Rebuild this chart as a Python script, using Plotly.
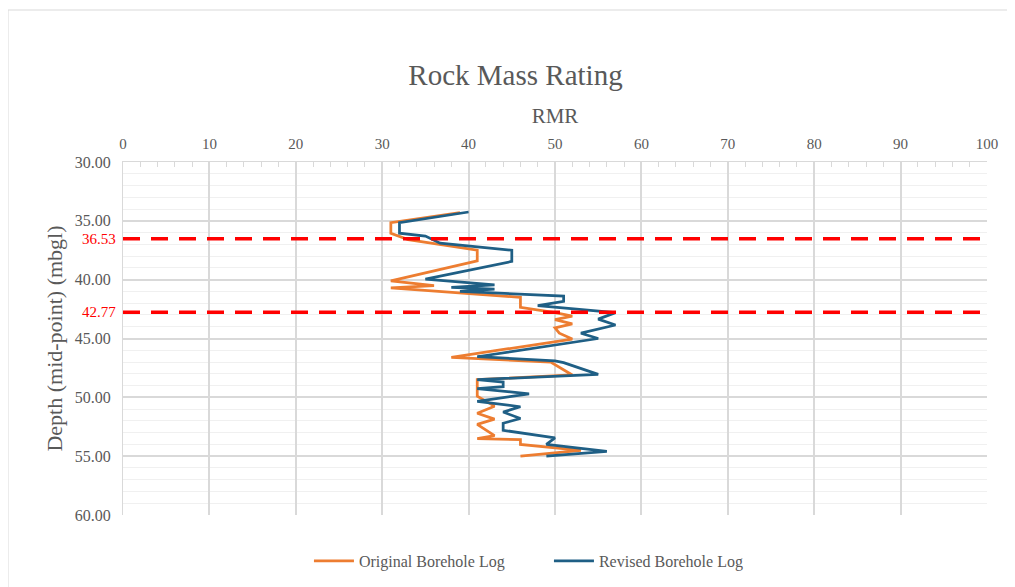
import plotly.graph_objects as go

# Original borehole log (orange)
orig_depth = [34.3, 35.15, 36.05, 36.6, 37.5, 38.4, 40.1, 40.5, 40.7, 41.1, 41.5, 42.35,
              42.8, 43.1, 43.4, 43.75, 44.1, 44.55, 45.05, 46.6, 47.0, 48.1, 48.5, 49.9,
              50.75, 51.35, 51.85, 52.3, 53.25, 53.5, 53.6, 54.0, 54.5, 55.0]
orig_rmr = [39, 31, 31, 33, 41, 41, 31, 36, 31, 39, 46, 46,
            50, 52, 50, 52, 50, 50.5, 52, 38, 49.5, 52, 41, 41,
            43, 41, 43, 41, 43, 41, 46, 46, 53, 46]

# Revised borehole log (blue)
rev_depth = [34.25, 35.15, 36.05, 36.3, 36.9, 37.5, 38.45, 39.95, 40.45, 40.65, 40.8, 41.0,
             41.4, 41.85, 42.2, 42.8, 43.35, 43.85, 44.55, 45.0, 46.55, 46.9, 47.05, 48.05,
             48.5, 48.7, 49.1, 49.25, 49.7, 50.35, 50.8, 51.25, 51.8, 52.2, 52.8, 53.3,
             53.45, 54.0, 54.6, 55.0]
rev_rmr = [40, 32, 32, 35, 36.7, 45, 45, 35, 43, 38, 43, 39,
           51, 51, 48, 57, 55, 57, 53, 55, 41, 50, 51, 55,
           41, 44, 44, 41, 47, 41, 46, 44, 46, 44, 44, 49,
           50, 49, 56, 49]

marker_depths = [36.53, 42.77]
marker_labels = ["36.53", "42.77"]

y_ticks = [30, 35, 40, 45, 50, 55, 60]
y_tick_labels = [f"{v:.2f}" for v in y_ticks]

GRAY = "#595959"
FONT = "Liberation Serif, Times New Roman, serif"

fig = go.Figure()
fig.add_trace(go.Scatter(x=orig_rmr, y=orig_depth, mode="lines", name="Original Borehole Log",
                         line=dict(color="#ED7D31", width=2.75)))
fig.add_trace(go.Scatter(x=rev_rmr, y=rev_depth, mode="lines", name="Revised Borehole Log",
                         line=dict(color="#1F5F85", width=2.75)))

for d, lab in zip(marker_depths, marker_labels):
    fig.add_shape(type="line", xref="paper", yref="y", x0=0, x1=1, y0=d, y1=d,
                  line=dict(color="#FF0000", width=3.5, dash="17px,11px"))
    fig.add_annotation(xref="paper", yref="y", x=0, y=d, text=lab, showarrow=False,
                       xanchor="right", xshift=-5, font=dict(color="#FF0000", size=15, family=FONT))

# outer chart border
fig.add_shape(type="rect", xref="paper", yref="paper",
              x0=-115 / 864, x1=1 + 40 / 864, y0=-1.2, y1=1 + 152 / 353,
              line=dict(color="#D9D9D9", width=1))

fig.update_layout(
    width=1015, height=587,
    margin=dict(l=115, r=36, t=154, b=80),
    paper_bgcolor="white", plot_bgcolor="white",
    font=dict(family=FONT, color=GRAY, size=15),
    title=dict(text="Rock Mass Rating", x=0.5, xanchor="center", y=1 - 67 / 587, yanchor="middle",
               font=dict(size=29, color=GRAY, family=FONT)),
    showlegend=True,
    legend=dict(orientation="h", x=0.493, xanchor="center", y=-0.13, yanchor="middle",
                font=dict(size=16, color=GRAY, family=FONT), itemwidth=40, entrywidth=185),
    xaxis=dict(side="top", range=[0, 100], dtick=10, tick0=0,
               showgrid=True, gridcolor="#D9D9D9", gridwidth=1.5,
               showline=True, linecolor="#D9D9D9", linewidth=1, zeroline=False,
               ticks="", ticklabelstandoff=6, tickfont=dict(size=15, color=GRAY),
               minor=dict(dtick=2, ticks="inside", ticklen=5, tickcolor="#D9D9D9", showgrid=False),
               title=dict(text="RMR", font=dict(size=21, color=GRAY), standoff=6)),
    yaxis=dict(range=[60, 30], tickvals=y_ticks, ticktext=y_tick_labels,
               showgrid=True, gridcolor="#D9D9D9", gridwidth=1.5,
               showline=True, linecolor="#D9D9D9", zeroline=False, ticks="",
               ticklabelstandoff=8, tickfont=dict(size=16, color=GRAY),
               minor=dict(dtick=1, showgrid=True, gridcolor="#F0F0F0", gridwidth=1),
               title=dict(text="Depth (mid-point) (mbgl)", font=dict(size=22, color=GRAY), standoff=6)),
)

fig.write_html("out.html")
